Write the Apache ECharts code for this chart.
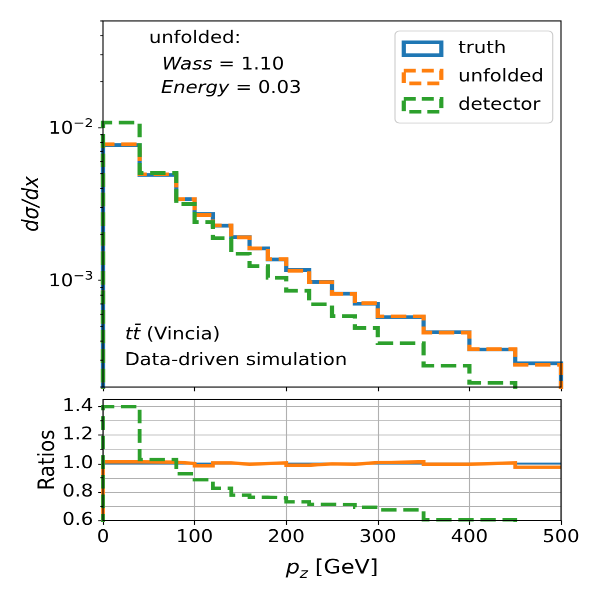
<!DOCTYPE html>
<html>
<head>
<meta charset="utf-8">
<script src="https://cdn.jsdelivr.net/npm/echarts@6/dist/echarts.min.js"></script>
<style>
html,body{margin:0;padding:0;background:#fff;overflow:hidden;width:600px;height:600px}
#c{width:600px;height:678px;transform:scaleY(0.885);transform-origin:0 0}
</style>
</head>
<body>
<div id="c"></div>
<script>
// ---- data ----
const binEdges = [0, 40, 80, 100, 120, 140, 160, 180, 200, 225, 250, 275, 300, 350, 400, 450, 500];
const truth    = [7.70e-3, 4.90e-3, 3.40e-3, 2.72e-3, 2.28e-3, 1.92e-3, 1.62e-3, 1.37e-3, 1.17e-3, 0.975e-3, 0.818e-3, 0.703e-3, 0.574e-3, 0.457e-3, 0.352e-3, 0.286e-3];
const unfolded = [7.79e-3, 4.95e-3, 3.40e-3, 2.68e-3, 2.29e-3, 1.91e-3, 1.62e-3, 1.377e-3, 1.156e-3, 0.973e-3, 0.814e-3, 0.708e-3, 0.581e-3, 0.455e-3, 0.354e-3, 0.280e-3];
const detector = [10.8e-3, 5.04e-3, 3.16e-3, 2.41e-3, 1.886e-3, 1.494e-3, 1.238e-3, 1.04e-3, 0.855e-3, 0.696e-3, 0.582e-3, 0.487e-3, 0.387e-3, 0.276e-3, 0.213e-3, 0.15e-3];
const ratioTruth    = [1, 1, 1, 1, 1, 1, 1, 1, 1, 1, 1, 1, 1, 1, 1, 1];
const ratioUnfolded = [1.012, 1.010, 1.000, 0.984, 1.005, 0.995, 1.000, 1.005, 0.988, 0.998, 0.995, 1.007, 1.012, 0.995, 1.005, 0.974];
const ratioDetector = [1.40, 1.028, 0.928, 0.886, 0.827, 0.778, 0.764, 0.759, 0.731, 0.714, 0.712, 0.693, 0.675, 0.605, 0.605, 0.52];
const logMajorTicks = [1e-3, 1e-2];
const logMinorTicks = [2e-4, 3e-4, 4e-4, 5e-4, 6e-4, 7e-4, 8e-4, 9e-4, 2e-3, 3e-3, 4e-3, 5e-3, 6e-3, 7e-3, 8e-3, 9e-3, 2e-2, 3e-2, 4e-2, 5e-2];
const ratioMajorTicks = [0.6, 0.8, 1.0, 1.2, 1.4];
const ratioMinorTicks = [0.7, 0.9, 1.1, 1.3];
const seriesNames = ['truth', 'unfolded', 'detector'];

// ---- helpers ----
function stepData(vals, floor, closeRight) {
  const d = [[binEdges[0], floor]];
  vals.forEach((v, i) => d.push([binEdges[i], v]));
  d.push([binEdges[binEdges.length - 1], vals[vals.length - 1]]);
  if (closeRight) d.push([binEdges[binEdges.length - 1], floor]);
  return d;
}
const FONT = 'DejaVu Sans';
const BLUE = '#1f77b4', ORANGE = '#ff7f0e', GREEN = '#2ca02c';
const DASH = [15.4, 6.7];
const tickLine = { color: '#000', width: 1.1 };
const gridLine = { color: '#b0b0b0', width: 1.1 };

function minorTickSeries(xi, yi, values) {
  return {
    type: 'custom', xAxisIndex: xi, yAxisIndex: yi, silent: true, clip: false, z: 6,
    data: values.map(v => [0, v]),
    renderItem: function (params, api) {
      const p = api.coord([api.value(0), api.value(1)]);
      return { type: 'line', shape: { x1: p[0] - 2.78, y1: p[1], x2: p[0], y2: p[1] },
               style: { stroke: '#000', lineWidth: 1.1 } };
    }
  };
}
function stepSeries(name, xi, yi, vals, floor, closeRight, color, width, dashed) {
  return {
    name: name, type: 'line', xAxisIndex: xi, yAxisIndex: yi, step: 'end',
    symbol: 'none', showSymbol: false, silent: true, clip: true,
    data: stepData(vals, floor, closeRight),
    lineStyle: { color: color, width: width, type: dashed ? DASH : 'solid', cap: 'butt', join: 'miter' },
    itemStyle: { color: color }
  };
}

const chart = echarts.init(document.getElementById('c'), null, { renderer: 'canvas', devicePixelRatio: 2 });

const option = {
  animation: false,
  backgroundColor: '#fff',
  textStyle: { fontFamily: FONT },
  grid: [
    { left: 103, top: 23.7, width: 458, height: 413.6, show: true, borderColor: '#000', borderWidth: 1.1,
      backgroundColor: 'rgba(0,0,0,0)', z: 10, containLabel: false, outerBoundsMode: 'none' },
    { left: 103, top: 451.4, width: 458, height: 136.7, show: true, borderColor: '#000', borderWidth: 1.1,
      backgroundColor: 'rgba(0,0,0,0)', z: 10, containLabel: false, outerBoundsMode: 'none' }
  ],
  xAxis: [
    { type: 'value', gridIndex: 0, min: 0, max: 500, interval: 100,
      axisLine: { show: false, onZero: false },
      axisTick: { show: true, length: 4.86, lineStyle: tickLine },
      axisLabel: { show: false }, splitLine: { show: false } },
    { type: 'value', gridIndex: 1, min: 0, max: 500, interval: 100,
      axisLine: { show: false, onZero: false },
      axisTick: { show: true, length: 4.86, lineStyle: tickLine },
      axisLabel: { show: true, fontSize: 19.44, fontFamily: FONT, color: '#000', margin: 9.7 },
      splitLine: { show: true, lineStyle: gridLine },
      name: '{p|p}{z|z}{n| [GeV]}', nameLocation: 'middle', nameGap: 43, nameMoveOverlap: false,
      nameTextStyle: { rich: {
        p: { fontSize: 22.2, fontFamily: FONT, fontStyle: 'italic', color: '#000', verticalAlign: 'bottom', padding: [0, 0, 4, 0] },
        z: { fontSize: 15.5, fontFamily: FONT, fontStyle: 'italic', color: '#000', verticalAlign: 'bottom' },
        n: { fontSize: 22.2, fontFamily: FONT, color: '#000', verticalAlign: 'bottom', padding: [0, 0, 4, 0] }
      } } }
  ],
  yAxis: [
    { type: 'log', logBase: 10, gridIndex: 0, min: 2e-4, max: 5e-2,
      axisLine: { show: false, onZero: false },
      axisTick: { show: true, customValues: logMajorTicks, length: 4.86, lineStyle: tickLine },
      axisLabel: { show: true, customValues: logMajorTicks, margin: 9.7,
        formatter: function (v) { return '{b|10}{s|\u2212' + (-Math.round(Math.log10(v))) + '}'; },
        rich: {
          b: { fontSize: 19.44, fontFamily: FONT, color: '#000', verticalAlign: 'bottom' },
          s: { fontSize: 13.6, fontFamily: FONT, color: '#000', verticalAlign: 'bottom', padding: [0, 0, 8.7, 0] }
        } },
      splitLine: { show: false }, minorTick: { show: false },
      name: 'd\u03c3/dx', nameLocation: 'middle', nameGap: 60, nameMoveOverlap: false,
      nameTextStyle: { fontSize: 22.2, fontFamily: FONT, fontStyle: 'italic', color: '#000' } },
    { type: 'value', gridIndex: 1, min: 0.6, max: 1.45, interval: 0.1,
      axisLine: { show: false, onZero: false },
      axisTick: { show: true, customValues: ratioMajorTicks, length: 4.86, lineStyle: tickLine },
      axisLabel: { show: true, customValues: ratioMajorTicks, margin: 9.7, fontSize: 19.44, fontFamily: FONT, color: '#000',
        formatter: function (v) { return v.toFixed(1); } },
      splitLine: { show: false },
      name: 'Ratios', nameLocation: 'middle', nameGap: 44, nameMoveOverlap: false,
      nameTextStyle: { fontSize: 22.2, fontFamily: FONT, color: '#000' } },
    { type: 'value', gridIndex: 1, position: 'right', min: 0.6, max: 1.45, interval: 0.1,
      axisLine: { show: false, onZero: false }, axisTick: { show: false }, axisLabel: { show: false },
      splitLine: { show: true, lineStyle: gridLine } }
  ],
  legend: {
    orient: 'vertical', left: 395, top: 35, padding: [9.1, 9, 9.1, 6.7],
    itemWidth: 37.5, itemHeight: 14.5, itemGap: 9.9,
    backgroundColor: 'rgba(255,255,255,0.8)', borderColor: '#cccccc', borderWidth: 1.1, borderRadius: 4.5,
    selectedMode: false, z: 20,
    textStyle: { fontSize: 19.44, fontFamily: FONT, color: '#000', lineHeight: 22, padding: [0, 0, 0, 12] },
    data: [
      { name: seriesNames[0], icon: 'rect', itemStyle: { color: 'rgba(0,0,0,0)', borderColor: BLUE, borderWidth: 4.2, borderType: 'solid' } },
      { name: seriesNames[1], icon: 'rect', itemStyle: { color: 'rgba(0,0,0,0)', borderColor: ORANGE, borderWidth: 4.2, borderType: [12, 6] } },
      { name: seriesNames[2], icon: 'rect', itemStyle: { color: 'rgba(0,0,0,0)', borderColor: GREEN, borderWidth: 4.2, borderType: [12, 6] } }
    ]
  },
  graphic: [
    { type: 'text', x: 149, y: 31.5, z: 30, style: { text: 'unfolded:', fontSize: 19.44, fontFamily: FONT, fill: '#000', lineHeight: 24, verticalAlign: 'top' } },
    { type: 'text', x: 162, y: 61.3, z: 30, style: { text: '{i|Wass} = 1.10', fontSize: 19.44, fontFamily: FONT, fill: '#000', lineHeight: 24, verticalAlign: 'top',
        rich: { i: { fontStyle: 'italic', fontSize: 19.44, fontFamily: FONT, lineHeight: 24 } } } },
    { type: 'text', x: 161, y: 88.0, z: 30, style: { text: '{i|Energy} = 0.03', fontSize: 19.44, fontFamily: FONT, fill: '#000', lineHeight: 24, verticalAlign: 'top',
        rich: { i: { fontStyle: 'italic', fontSize: 19.44, fontFamily: FONT, lineHeight: 24 } } } },
    { type: 'text', x: 125, y: 366.7, z: 30, style: { text: '{i|tt\u0304} (Vincia)', fontSize: 19.44, fontFamily: FONT, fill: '#000', lineHeight: 24, verticalAlign: 'top',
        rich: { i: { fontStyle: 'italic', fontSize: 19.44, fontFamily: FONT, lineHeight: 24 } } } },
    { type: 'text', x: 124.7, y: 395.7, z: 30, style: { text: 'Data-driven simulation', fontSize: 19.44, fontFamily: FONT, fill: '#000', lineHeight: 24, verticalAlign: 'top' } }
  ],
  series: [
    stepSeries(seriesNames[0], 0, 0, truth, 1e-7, true, BLUE, 4.2, false),
    stepSeries(seriesNames[1], 0, 0, unfolded, 1e-7, true, ORANGE, 4.2, true),
    stepSeries(seriesNames[2], 0, 0, detector, 1e-7, true, GREEN, 4.2, true),
    stepSeries('truth ratio', 1, 1, ratioTruth, 0, false, BLUE, 2.0, false),
    stepSeries('unfolded ratio', 1, 1, ratioUnfolded, 0, false, ORANGE, 3.8, false),
    stepSeries('detector ratio', 1, 1, ratioDetector, 0, false, GREEN, 3.8, true),
    minorTickSeries(0, 0, logMinorTicks),
    minorTickSeries(1, 1, ratioMinorTicks)
  ]
};
chart.setOption(option);
</script>
</body>
</html>
